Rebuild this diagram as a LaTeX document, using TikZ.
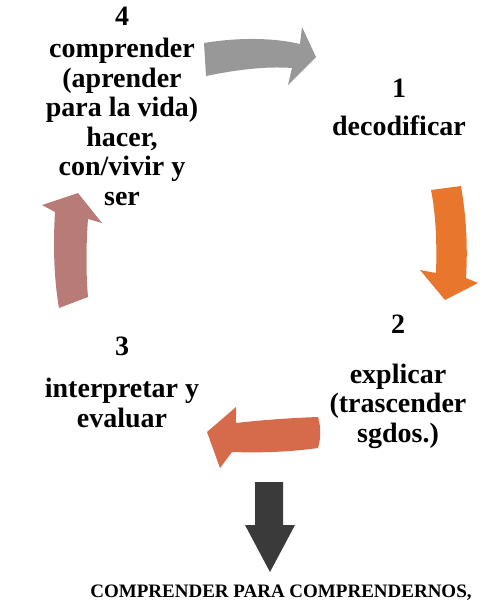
\documentclass[tikz,border=0pt]{standalone}
\usepackage{fontspec}
\setmainfont[BoldFont={Liberation Serif Bold}]{Liberation Serif}
\usepackage{xcolor}
\usepackage{tikz}
\usetikzlibrary{positioning}
\definecolor{arrgray}{RGB}{152,152,152}
\definecolor{arrorange}{RGB}{232,118,45}
\definecolor{arrred}{RGB}{214,107,75}
\definecolor{arrmauve}{RGB}{184,123,120}
\definecolor{arrdark}{RGB}{58,58,58}
\tikzset{
  % etapas del ciclo (anclado en la base de la ultima linea)
  stage/.style={
    align=center,
    inner sep=0pt,
    anchor=base,
    font=\rmfamily\bfseries\fontsize{28}{29.5}\selectfont
  },
  % conclusion
  result/.style={
    inner sep=0pt,
    anchor=base,
    font=\rmfamily\bfseries\fontsize{19}{22}\selectfont
  },
}
\begin{document}
\begin{tikzpicture}[x=1pt, y=-1pt]
    \useasboundingbox (0,0) rectangle (483,603);

    % Stages
    \node[stage] (n4) at (122, 205) {4\\[2.5pt]comprender\\(aprender\\para la vida)\\hacer,\\con/vivir y\\ser};
    \node[stage] (n1) at (399, 135) {1\\[8.5pt]decodificar};
    \node[stage] (n2) at (398, 442) {2\\[20pt]explicar\\(trascender\\sgdos.)};
    \node[stage] (n3) at (122, 427) {3\\[12.5pt]interpretar y\\evaluar};

    % Cycle arrows
    \fill[arrgray] (204,43) .. controls (240,37) and (275,38) .. (300,44)
        -- (302,27) -- (316,57) -- (288,85) -- (292,68)
        .. controls (265,66) and (235,70) .. (206,76) -- cycle;
    \fill[arrorange] (431,190) -- (461,186) .. controls (466,215) and (468,245) .. (466,278)
        -- (478,283) -- (445,300) -- (420,270) -- (436,273)
        .. controls (437,245) and (436,215) .. cycle;
    \fill[arrred] (318,417) .. controls (321,427) and (321,438) .. (318,448)
        .. controls (290,452) and (260,453) .. (232,452)
        -- (220,468) -- (207,432) -- (236,407) -- (236,423)
        .. controls (262,420) and (290,418) .. cycle;
    \fill[arrmauve] (59,308) .. controls (54,280) and (53,245) .. (55,212)
        -- (42,205) -- (78,193) -- (102,223) -- (88,219)
        .. controls (86,245) and (86,275) .. (88,297) -- cycle;

    % Result
    \fill[arrdark] (255,482) -- (283,482) -- (283,525) -- (295,525)
        -- (270,572) -- (245,525) -- (255,525) -- cycle;
    \node[result] (res) at (281, 597) {COMPRENDER PARA COMPRENDERNOS,};
\end{tikzpicture}
\end{document}
